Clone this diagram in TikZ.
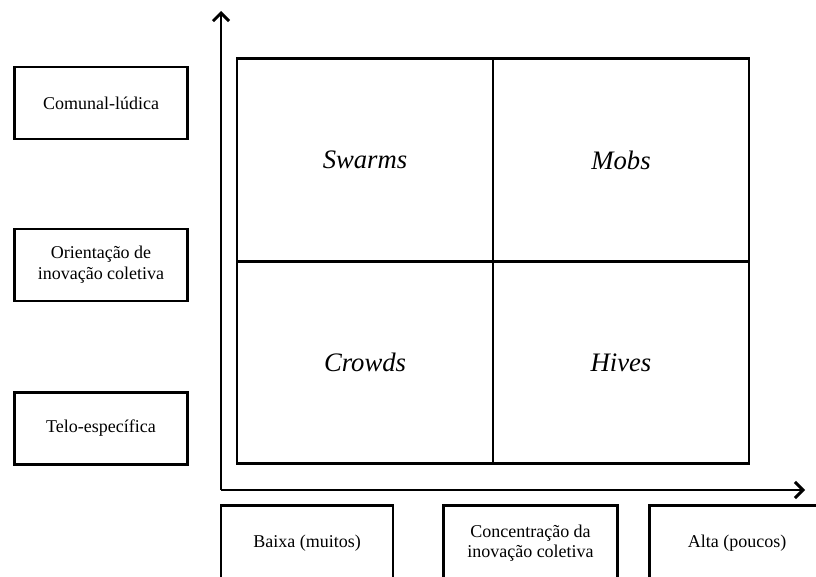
\documentclass[tikz,border=0pt]{standalone}
\usepackage{fontspec}
\setmainfont{Liberation Serif}
\usetikzlibrary{arrows.meta}

\begin{document}
\begin{tikzpicture}[x=0.75pt, y=-0.75pt,
  box/.style={draw, line width=2.2pt, minimum width=130pt, minimum height=54pt,
              inner sep=2pt, align=center, font=\fontsize{13.5}{15.5}\selectfont},
  quad/.style={draw, line width=2.2pt, minimum width=192pt, minimum height=152pt,
               font=\fontsize{20}{24}\selectfont\itshape},
  axis/.style={line width=2.2pt, -{Straight Barb[length=6pt, width=12pt, line width=2.2pt]}}]
  \useasboundingbox (0,0) rectangle (816,577);
  \clip (0,0) rectangle (816,577);

  % vertical classes
  \node[box] (comunal) at (101,103) {Comunal-lúdica};
  \node[box] (orient) at (101,265) {Orientação de\\inovação coletiva};
  \node[box] (telo) at (101,428.5) {Telo-específica};

  % the four quadrants
  \node[quad] (swarms) at (365,160) {Swarms};
  \node[quad] (mobs) at (621,160) {Mobs};
  \node[quad] (crowds) at (365,362.5) {Crowds};
  \node[quad] (hives) at (621,362.5) {Hives};

  % axes
  \coordinate (origin) at (221,490);
  \coordinate (ytip) at (221,11);
  \coordinate (xtip) at (805,490);
  \draw[axis] (origin) -- (ytip);
  \draw[axis] (origin) -- (xtip);

  % horizontal classes
  \node[box, minimum width=129pt, minimum height=56pt] (baixa) at (307,543) {Baixa (muitos)};
  \node[box, minimum width=131pt, minimum height=56pt] (conc) at (530.5,543) {Concentração da\\inovação coletiva};
  \node[box, minimum width=131pt, minimum height=56pt] (alta) at (737,543) {Alta (poucos)};
\end{tikzpicture}
\end{document}
